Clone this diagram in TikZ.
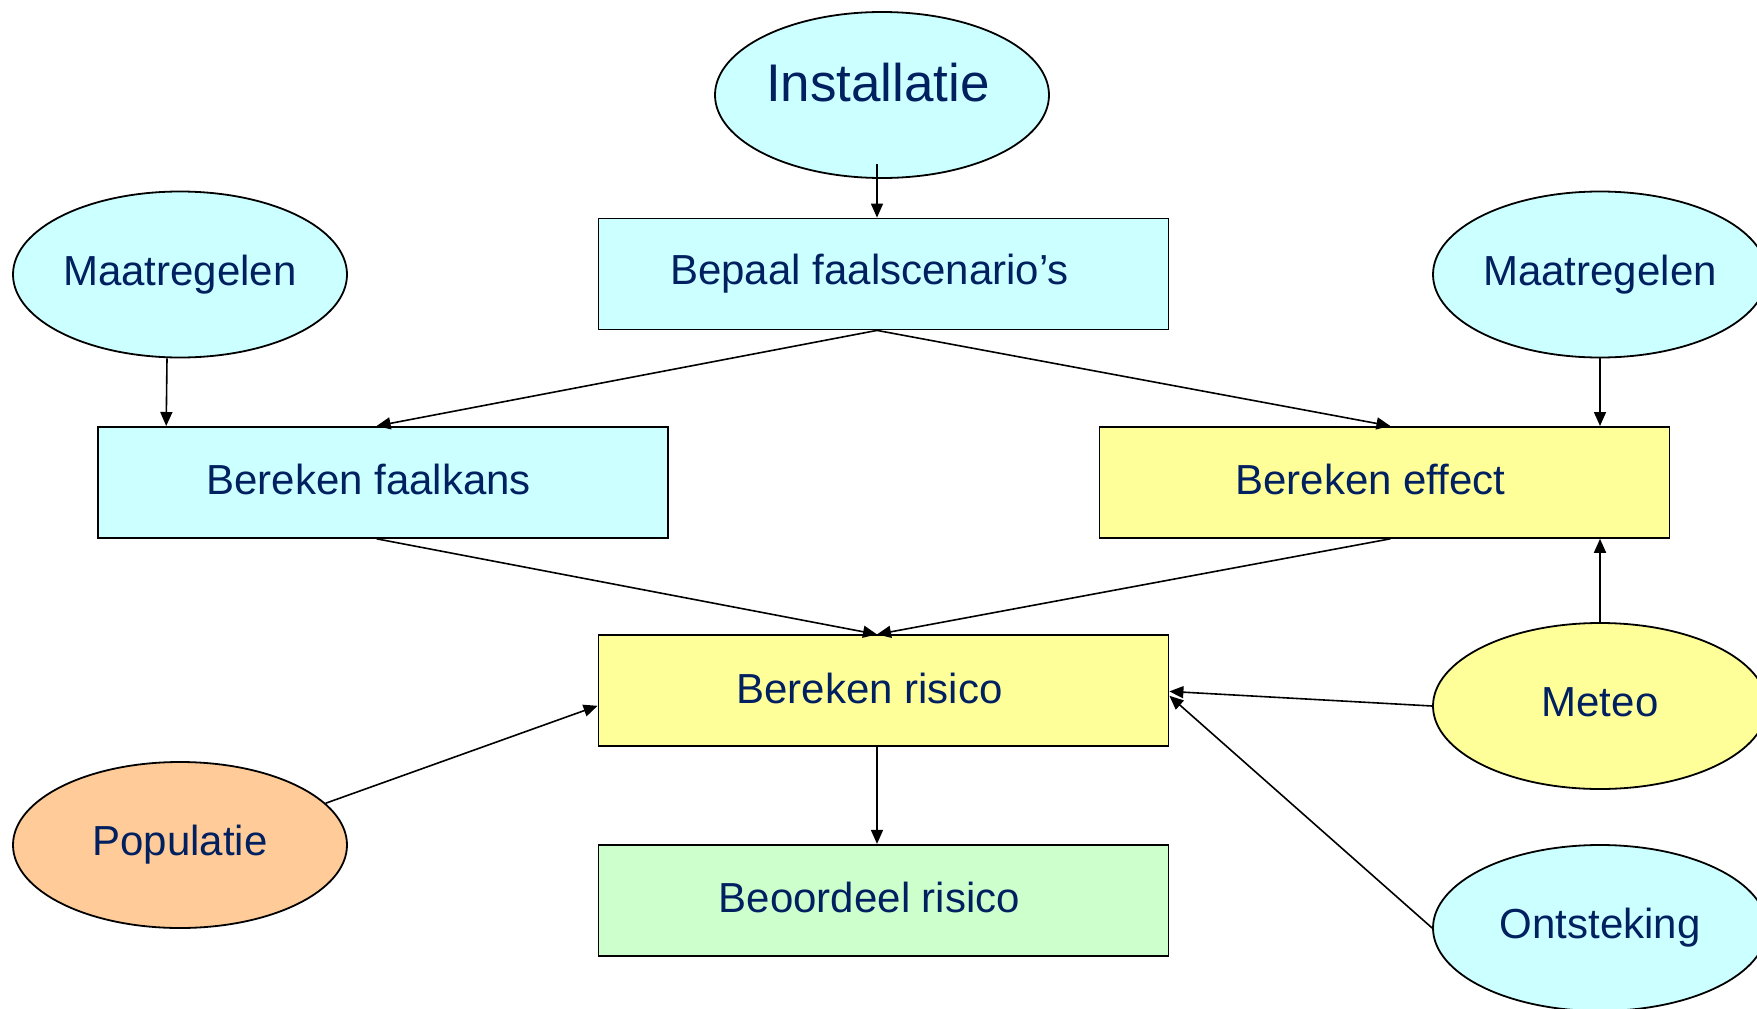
\documentclass[tikz,border=0pt]{standalone}
\usepackage{fontspec}
\setmainfont{Liberation Sans}
\usetikzlibrary{shapes.geometric,arrows.meta,calc}
\definecolor{txt}{RGB}{0,32,96}
\definecolor{fcyan}{RGB}{204,255,255}
\definecolor{fyellow}{RGB}{255,255,153}
\definecolor{fgreen}{RGB}{204,255,204}
\definecolor{forange}{RGB}{255,204,153}
\newcommand\bxt[1]{\kern-28pt\raisebox{6pt}{#1}}
\newcommand\elt[1]{\raisebox{7pt}{#1}}
\begin{document}
\begin{tikzpicture}[x=1pt,y=-1pt,
  every node/.style={text=txt, font=\fontsize{42}{50}\selectfont},
  box/.style={draw, line width=1.8pt, minimum width=570pt, minimum height=111pt, inner sep=0pt},
  oval/.style={ellipse, draw, line width=1.8pt, minimum width=334pt, minimum height=166pt, inner sep=0pt},
  arr/.style={line width=1.6pt, -{Triangle[length=14pt,width=12pt]}}]
\useasboundingbox (0,0) rectangle (1757,1009);

% ellipses
\node[oval, fill=fcyan] (inst) at (882,95) {\kern-8pt\raisebox{26pt}{\fontsize{53}{60}\selectfont Installatie}};
\node[oval, fill=fcyan] (maatL) at (180,274.5) {\elt{Maatregelen}};
\node[oval, fill=fcyan] (maatR) at (1600,274.5) {\elt{Maatregelen}};
\node[oval, fill=forange] (pop) at (180,845) {\elt{Populatie}};
\node[oval, fill=fyellow] (meteo) at (1600,706) {\elt{Meteo}};
\node[oval, fill=fcyan] (ont) at (1600,928) {\elt{Ontsteking}};

% boxes
\node[box, fill=fcyan] (bep) at (883.5,274) {\bxt{Bepaal faalscenario’s}};
\node[box, fill=fcyan] (faal) at (382.6,482.4) {\bxt{Bereken faalkans}};
\node[box, fill=fyellow] (eff) at (1384.4,482.4) {\bxt{Bereken effect}};
\node[box, fill=fyellow] (ris) at (883.5,690.8) {\bxt{Bereken risico}};
\node[box, fill=fgreen] (beo) at (883.5,900.3) {\bxt{Beoordeel risico}};

% connectors
\draw[arr] ($(inst.south)+(-5,-15)$) -- ($(bep.north)+(-6.5,0)$);
\draw[arr] ($(bep.south)+(-6.5,0)$) -- ($(faal.north)+(-6,0)$);
\draw[arr] ($(bep.south)+(-6.5,0)$) -- ($(eff.north)+(6,0)$);
\draw[arr] ($(maatL.south)+(-13,0)$) -- ($(faal.north west)+(69.5,0)$);
\draw[arr] (maatR.south) -- (maatR.south |- eff.north);
\draw[arr] ($(faal.south)+(-6,0)$) -- ($(ris.north)+(-6.5,0)$);
\draw[arr] ($(eff.south)+(6,0)$) -- ($(ris.north)+(-6.5,0)$);
\draw[arr] ($(ris.south)+(-6.5,0)$) -- ($(beo.north)+(-6.5,0)$);
\draw[arr] (meteo.north) -- (meteo.north |- eff.south);
\draw[arr] (meteo.west) -- ($(ris.east)+(0,0.6)$);
\draw[arr] (ont.west) -- ($(ris.east)+(0,5)$);
\draw[arr] (pop.16) -- ($(ris.west)+(0,15)$);
\end{tikzpicture}
\end{document}
